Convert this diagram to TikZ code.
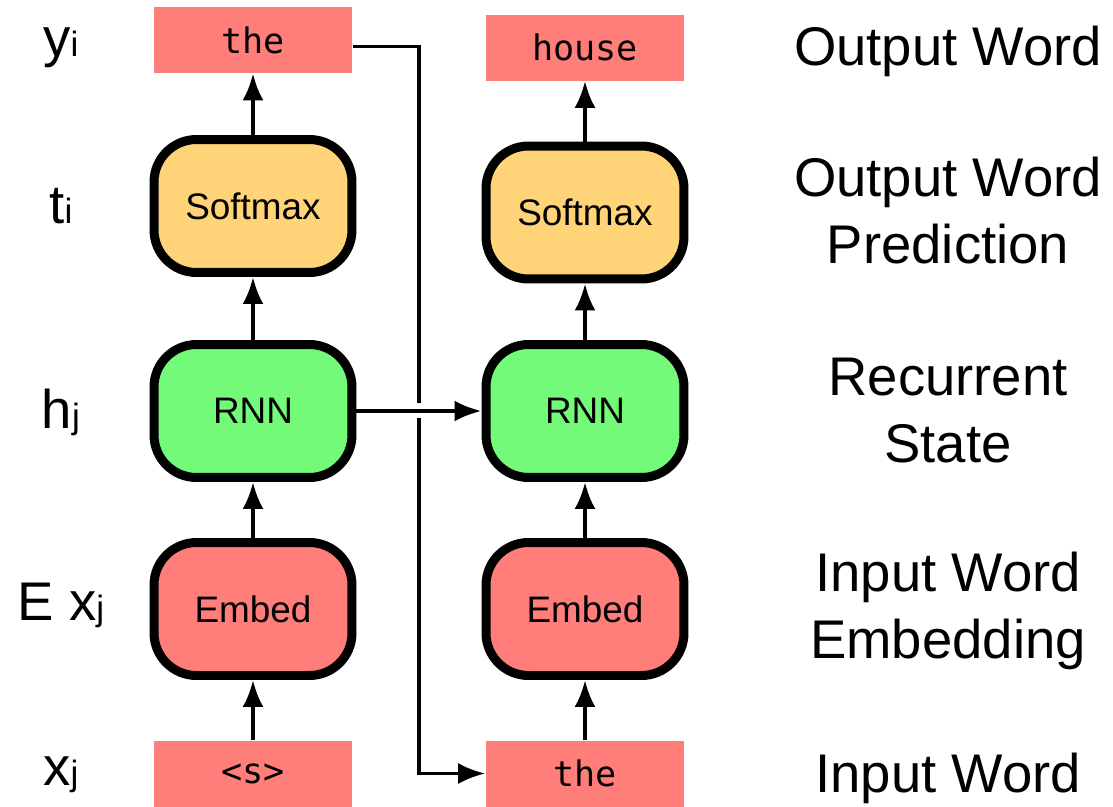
\documentclass[tikz,border=0pt]{standalone}
\usepackage{fontspec}
\setmainfont{Liberation Sans}
\newfontfamily\wordfont{DejaVu Sans Mono}
\usepackage{tikz}
\usetikzlibrary{arrows.meta,positioning}
\definecolor{salmon}{HTML}{FF7E79}
\definecolor{cantaloupe}{HTML}{FFD479}
\definecolor{flora}{HTML}{73FA79}
\newcommand{\lsub}[1]{{\fontsize{20}{20}\selectfont #1}}

\begin{document}
\begin{tikzpicture}[x=0.02cm,y=-0.02cm,
  word/.style={fill=salmon,minimum width=3.98cm,minimum height=1.32cm,inner sep=0pt,font=\wordfont\fontsize{20}{20}\selectfont},
  layer/.style={draw,line width=0.18cm,rounded corners=0.85cm,minimum width=3.96cm,minimum height=2.66cm,font=\fontsize{21}{21}\selectfont},
  flow/.style={-{Latex[length=0.54cm,width=0.42cm]},line width=0.08cm},
  side/.style={anchor=base,font=\fontsize{31}{31}\selectfont},
  role/.style={anchor=base,align=center,font=\fontsize{31}{37.6}\selectfont}]
\useasboundingbox (0,0) rectangle (1113,806);
% first step
\node[word] (out1) at (253,40) {the};
\node[layer,fill=cantaloupe] (soft1) at (253,206) {Softmax};
\node[layer,fill=flora] (rnn1) at (253,411) {RNN};
\node[layer,fill=salmon] (emb1) at (253,609) {Embed};
\node[word] (in1) at (253,773.5) {<s>};
% second step
\node[word] (out2) at (585,47.5) {house};
\node[layer,fill=cantaloupe] (soft2) at (585,212.5) {Softmax};
\node[layer,fill=flora] (rnn2) at (585,411) {RNN};
\node[layer,fill=salmon] (emb2) at (585,609) {Embed};
\node[word] (in2) at (585,773.5) {the};
% up the columns
\draw[flow] (in1) -- (emb1);
\draw[flow] (emb1) -- (rnn1);
\draw[flow] (rnn1) -- (soft1);
\draw[flow] (soft1) -- (out1);
\draw[flow] (in2) -- (emb2);
\draw[flow] (emb2) -- (rnn2);
\draw[flow] (rnn2) -- (soft2);
\draw[flow] (soft2) -- (out2);
% output fed back as next input
\draw[-{Latex[length=0.54cm,width=0.42cm]},line width=0.07cm] ([yshift=-0.13cm]out1.east) -- ++(66,0) |- (in2.west);
\fill[white] (408,403) rectangle (428,418);
\draw[flow] (rnn1) -- (rnn2);
% left labels
\node[side] (ly) at (61,56.5) {y\lsub{i}};
\node[side] (lt) at (61,223) {t\lsub{i}};
\node[side] (lh) at (61,428) {h\lsub{j}};
\node[side] (le) at (61,620) {E x\lsub{j}};
\node[side] (lx) at (61,785) {x\lsub{j}};
% right labels (base is the last line)
\node[role] (rout) at (948,65) {Output Word};
\node[role] (rpred) at (948,263) {Output Word\\Prediction};
\node[role] (rstate) at (948,462) {Recurrent\\State};
\node[role] (remb) at (948,658) {Input Word\\Embedding};
\node[role] (rin) at (948,792) {Input Word};
\end{tikzpicture}
\end{document}
